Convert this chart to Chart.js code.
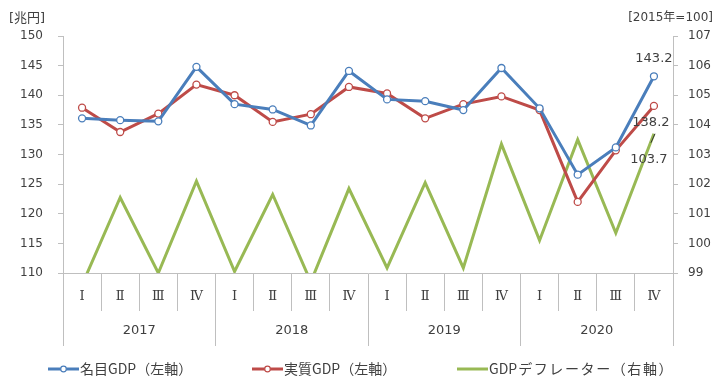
<!DOCTYPE html>
<html>
<head>
<meta charset="utf-8">
<script src="https://cdn.jsdelivr.net/npm/chart.js@4.4.0/dist/chart.umd.min.js"></script>
<style>
  html, body { margin: 0; padding: 0; background: #fff; }
  #wrap { width: 718px; height: 380px; }
</style>
</head>
<body>
<div id="wrap"><canvas id="gdp-chart"></canvas></div>
<script>
const quarters = ['Ⅰ', 'Ⅱ', 'Ⅲ', 'Ⅳ', 'Ⅰ', 'Ⅱ', 'Ⅲ', 'Ⅳ', 'Ⅰ', 'Ⅱ', 'Ⅲ', 'Ⅳ', 'Ⅰ', 'Ⅱ', 'Ⅲ', 'Ⅳ'];
const years = ['2017', '2018', '2019', '2020'];
const nominalGdp = [136.1, 135.8, 135.6, 144.8, 138.5, 137.6, 134.9, 144.1, 139.3, 139.0, 137.5, 144.6, 137.8, 126.6, 131.2, 143.2];
const realGdp = [137.9, 133.8, 136.9, 141.8, 140.0, 135.5, 136.8, 141.4, 140.3, 136.1, 138.5, 139.8, 137.5, 122.0, 130.7, 138.2];
const deflator = [98.6, 101.55, 99.0, 102.1, 99.05, 101.65, 98.7, 101.85, 99.17, 102.05, 99.17, 103.35, 100.1, 103.5, 100.35, 103.7];
const leftRange = [110, 150];
const rightRange = [99, 107];
const seriesNames = ['名目GDP（左軸）', '実質GDP（左軸）', 'GDPデフレーター（右軸）'];

const BLUE = '#4a7ebb';
const RED = '#be4b48';
const GREEN = '#98b954';
const AXIS = '#bfbfbf';
const TEXT = '#404040';
const NUM_FONT = 'DejaVu Sans';
const JP_FONT = 'Noto Sans CJK JP';

// unit labels, end labels and the legend are drawn by hand
const extrasPlugin = {
    id: 'extras',
    afterDatasetsDraw(chart) {
        const ctx = chart.ctx;
        ctx.save();
        ctx.fillStyle = TEXT;
        ctx.textBaseline = 'middle';

        // labels on the last points
        ctx.font = `13px "${NUM_FONT}"`;
        ctx.textAlign = 'center';
        const last = nominalGdp.length - 1;
        const pNom = chart.getDatasetMeta(0).data[last];
        const pReal = chart.getDatasetMeta(1).data[last];
        const pDef = chart.getDatasetMeta(2).data[last];
        ctx.fillText(nominalGdp[last].toFixed(1), pNom.x, pNom.y - 18);
        ctx.fillText(realGdp[last].toFixed(1), pReal.x - 3, pReal.y + 17);
        ctx.fillText(deflator[last].toFixed(1), pDef.x - 5, pDef.y + 26);
        ctx.strokeStyle = '#333';
        ctx.lineWidth = 1;
        ctx.beginPath();
        ctx.moveTo(pDef.x + 1, pDef.y);
        ctx.lineTo(pDef.x - 3, pDef.y + 9);
        ctx.stroke();

        // axis units
        ctx.font = `13px "${NUM_FONT}", "${JP_FONT}"`;
        ctx.textAlign = 'left';
        ctx.fillText('[兆円]', 9, 19);
        ctx.font = `12px "${NUM_FONT}", "${JP_FONT}"`;
        ctx.textAlign = 'right';
        ctx.fillText('[2015年=100]', 713, 18);

        // legend
        const colors = [BLUE, RED, GREEN];
        const starts = [48, 252, 457];
        const markW = 31, y = 369;
        ctx.font = `14px "${JP_FONT}"`;
        ctx.textAlign = 'left';
        seriesNames.forEach((name, i) => {
            const x = starts[i];
            ctx.strokeStyle = colors[i];
            ctx.lineWidth = 3;
            ctx.beginPath();
            ctx.moveTo(x, y);
            ctx.lineTo(x + markW, y);
            ctx.stroke();
            if (i < 2) {
                ctx.fillStyle = '#fff';
                ctx.lineWidth = 1.2;
                ctx.beginPath();
                ctx.arc(x + markW / 2, y, 2.8, 0, Math.PI * 2);
                ctx.fill();
                ctx.stroke();
            }
            ctx.fillStyle = TEXT;
            if (i === 2) {
                // katakana part is set wider in the original
                const head = name.slice(0, 3);
                ctx.fillText(head, x + markW + 1, y);
                const hw = ctx.measureText(head).width;
                ctx.letterSpacing = '1.6px';
                ctx.fillText(name.slice(3), x + markW + 2 + hw, y);
                ctx.letterSpacing = '0px';
            } else {
                ctx.fillText(name, x + markW + 1, y);
            }
        });
        ctx.restore();
    }
};

const ctx = document.getElementById('gdp-chart').getContext('2d');

new Chart(ctx, {
    type: 'line',
    data: {
        labels: quarters,
        datasets: [{
            label: seriesNames[0],
            data: nominalGdp,
            yAxisID: 'y',
            borderColor: BLUE,
            borderWidth: 3,
            pointRadius: 3.5,
            pointBorderWidth: 1.3,
            pointBackgroundColor: '#fff',
            pointBorderColor: BLUE,
            tension: 0
        }, {
            label: seriesNames[1],
            data: realGdp,
            yAxisID: 'y',
            borderColor: RED,
            borderWidth: 3,
            pointRadius: 3.5,
            pointBorderWidth: 1.3,
            pointBackgroundColor: '#fff',
            pointBorderColor: RED,
            tension: 0
        }, {
            label: seriesNames[2],
            data: deflator,
            yAxisID: 'y1',
            borderColor: GREEN,
            borderWidth: 3,
            pointRadius: 0,
            tension: 0,
            clip: 0
        }]
    },
    options: {
        responsive: true,
        maintainAspectRatio: false,
        animation: false,
        layout: { padding: { top: 36, bottom: 34, left: 0, right: 0 } },
        plugins: {
            legend: { display: false },
            tooltip: { enabled: false }
        },
        scales: {
            x: {
                type: 'category',
                position: 'bottom',
                offset: true,
                grid: { offset: true, drawOnChartArea: false, tickLength: 38, color: AXIS },
                border: { color: AXIS },
                ticks: {
                    padding: -22,
                    autoSkip: false,
                    maxRotation: 0,
                    color: TEXT,
                    font: { family: 'DejaVu Serif', size: 13 }
                },
                afterFit: (scale) => { scale.height = 38; }
            },
            year: {
                type: 'category',
                labels: years,
                position: 'bottom',
                offset: true,
                grid: { offset: true, drawOnChartArea: false, tickLength: 35, color: AXIS },
                border: { display: false },
                ticks: {
                    padding: -23,
                    maxRotation: 0,
                    color: TEXT,
                    font: { family: NUM_FONT, size: 13 }
                },
                afterFit: (scale) => { scale.height = 35; }
            },
            y: {
                position: 'left',
                min: leftRange[0],
                max: leftRange[1],
                grid: { drawOnChartArea: false, tickLength: 5, color: AXIS },
                border: { color: AXIS },
                ticks: { stepSize: 5, padding: 15, color: TEXT, font: { family: NUM_FONT, size: 12 } },
                afterFit: (scale) => { scale.width = 63; }
            },
            y1: {
                position: 'right',
                min: rightRange[0],
                max: rightRange[1],
                grid: { drawOnChartArea: false, tickLength: 5, color: AXIS },
                border: { color: AXIS },
                ticks: { stepSize: 1, padding: 10, color: TEXT, font: { family: NUM_FONT, size: 12 } },
                afterFit: (scale) => { scale.width = 45; }
            }
        }
    },
    plugins: [extrasPlugin]
});
</script>
</body>
</html>
